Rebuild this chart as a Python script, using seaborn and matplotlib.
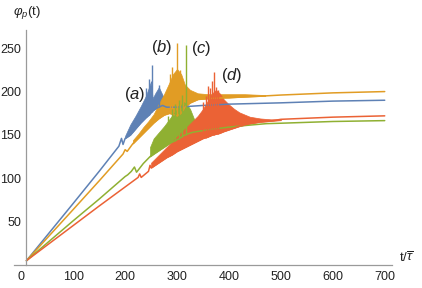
import numpy as np
import seaborn as sns
import matplotlib
matplotlib.use("Agg")
import matplotlib.pyplot as plt
from matplotlib.ticker import MultipleLocator

# (a) blue
a_t = [10, 100, 150, 188, 193, 196, 200, 210, 220, 230, 240, 250, 258, 265, 272, 280, 300, 350, 400, 500, 600, 700]
a_y = [5, 71, 108, 137, 146, 139, 146, 150, 157, 164, 170, 176, 180, 182, 184, 182, 182, 184, 185.5, 187, 189, 190]
a_band_t = [200, 210, 220, 230, 240, 246, 250, 253, 258, 265, 272, 278]
a_band_lo = [146, 150, 157, 164, 170, 173, 176, 178, 180, 182, 184, 183]
a_band_hi = [149, 162, 172, 183, 195, 205, 212, 192, 198, 205, 196, 186]
a_spk_t = [241, 246, 251, 265]
a_spk_y = [204, 214, 231, 207]

# (b) orange
b_t = [10, 100, 150, 196, 200, 204, 215, 225, 235, 245, 255, 265, 275, 285, 292, 300, 308, 315, 325,
       340, 360, 400, 470, 500, 600, 700]
b_y = [5, 64, 97, 128, 133, 131, 140, 146, 152, 158, 164, 169, 173, 175, 174, 172, 175, 182, 187,
       191, 192, 193, 195, 196, 198.5, 200]
b_band_t = [215, 225, 235, 245, 255, 265, 275, 285, 292, 300, 308, 315, 325, 340, 360, 380, 400, 430, 470]
b_band_lo = [140, 146, 152, 158, 164, 169, 173, 175, 174, 172, 175, 182, 187, 191, 192, 193, 193, 194, 195]
b_band_hi = [144, 151, 159, 166, 174, 186, 197, 210, 220, 226, 220, 208, 202, 198, 197, 197, 197, 197, 196]
b_spk_t = [286, 291, 299, 305, 312]
b_spk_y = [220, 228, 256, 225, 209]

# (c) green
c_t = [10, 100, 150, 200, 205, 212, 218, 222, 235, 248, 255, 265, 275, 285, 295, 305, 312, 320, 330,
       360, 400, 434, 472, 500, 600, 700]
c_y = [5, 51, 76, 102, 104, 108, 113, 107, 117, 125, 128, 132, 136, 140, 143, 146, 149, 151, 153,
       156, 159, 161, 163, 163.5, 165.5, 166.5]
c_band_t = [248, 255, 265, 275, 285, 295, 305, 312, 318, 325, 335]
c_band_lo = [125, 128, 132, 136, 140, 143, 146, 149, 150, 152, 153]
c_band_hi = [136, 146, 153, 160, 168, 176, 183, 188, 186, 180, 165]
c_spk_t = [283, 290, 296, 303, 310, 317]
c_spk_y = [172, 180, 186, 190, 196, 254]

# (d) red
d_t = [10, 100, 150, 200, 225, 228, 231, 245, 248, 250, 260, 270, 280, 290, 300, 310, 320, 330, 340,
       350, 360, 368, 375, 382, 390, 400, 410, 420, 440, 460, 480, 500, 600, 700]
d_y = [5, 45.5, 68, 90, 101, 105, 101, 108, 115, 112, 116, 120, 124, 127, 131, 134, 137, 140, 143,
       146, 148, 150, 151, 152, 154, 156, 158, 160, 163, 165, 166, 168, 170.5, 172]
d_band_t = [250, 260, 270, 280, 290, 300, 310, 320, 330, 340, 350, 360, 368, 375, 382, 390, 400, 410,
            420, 440, 460, 480, 500]
d_band_lo = [112, 116, 120, 124, 127, 131, 134, 137, 140, 143, 146, 148, 150, 151, 152, 154, 156, 158,
             160, 163, 165, 166, 167]
d_band_hi = [118, 124, 130, 136, 142, 148, 154, 160, 166, 172, 180, 190, 198, 202, 198, 191, 185, 180,
             176, 171, 169, 168, 168]
d_spk_t = [350, 355, 359, 363, 367, 371, 375, 379]
d_spk_y = [188, 195, 206, 204, 212, 222, 205, 202]

x_ticks = [0, 100, 200, 300, 400, 500, 600, 700]
y_ticks = [50, 100, 150, 200, 250]

colors = {"a": "#5E81B5", "b": "#E19C24", "c": "#8FB032", "d": "#EB6235"}
labels = {"a": (219, 197), "b": (271, 251), "c": (346, 250), "d": (406, 219)}

sns.set_style("white")
plt.rcParams["font.family"] = ["Liberation Sans", "DejaVu Sans"]
plt.rcParams["mathtext.fontset"] = "custom"
plt.rcParams["mathtext.rm"] = "Liberation Sans"
plt.rcParams["mathtext.it"] = "Liberation Sans:italic"

fig = plt.figure(figsize=(4.22, 2.88), dpi=100)
ax = fig.add_axes([14 / 422, 23 / 288, 378 / 422, 235 / 288])

series = [
    ("a", a_t, a_y, a_band_t, a_band_lo, a_band_hi, a_spk_t, a_spk_y),
    ("b", b_t, b_y, b_band_t, b_band_lo, b_band_hi, b_spk_t, b_spk_y),
    ("c", c_t, c_y, c_band_t, c_band_lo, c_band_hi, c_spk_t, c_spk_y),
    ("d", d_t, d_y, d_band_t, d_band_lo, d_band_hi, d_spk_t, d_spk_y),
]
for name, t, y, bt, blo, bhi, st, sy in series:
    col = colors[name]
    sns.lineplot(x=t, y=y, ax=ax, color=col, lw=1.1, sort=False, estimator=None)
    ax.fill_between(bt, blo, bhi, color=col, lw=0.5, edgecolor=col)
    base = np.interp(st, bt, blo)
    ax.vlines(st, base, sy, color=col, lw=1.0)
    lx, ly = labels[name]
    ax.text(lx, ly, f"($\\it{{{name}}}$)", fontsize=12, ha="center", va="center", color="#222222")

ax.set_xlim(-14, 714)
ax.set_ylim(0, 271)
ax.spines["top"].set_visible(False)
ax.spines["right"].set_visible(False)
ax.spines["left"].set_position(("data", 10))
ax.spines["bottom"].set_position(("data", 0))
for s in ("left", "bottom"):
    ax.spines[s].set_color("#9a9a9a")
    ax.spines[s].set_linewidth(0.9)

ax.set_xticks(x_ticks)
ax.set_yticks(y_ticks)
ax.xaxis.set_minor_locator(MultipleLocator(20))
ax.yaxis.set_minor_locator(MultipleLocator(10))
ax.tick_params(which="both", direction="in", color="#9a9a9a", width=0.8,
               labelsize=9, labelcolor="#222222", pad=4)
ax.tick_params(which="major", length=4)
ax.tick_params(which="minor", length=2.3)
ax.set_xlabel("")
ax.set_ylabel("")

fig.text(399 / 422, 1 - 258 / 288, r"t/$\overline{\tau}$", fontsize=9.5, color="#222222", va="center")
fig.text(13 / 422, 1 - 13 / 288, r"$\varphi_p$(t)", fontsize=9.5, color="#222222", va="center")

fig.savefig("out.png", dpi=100)
